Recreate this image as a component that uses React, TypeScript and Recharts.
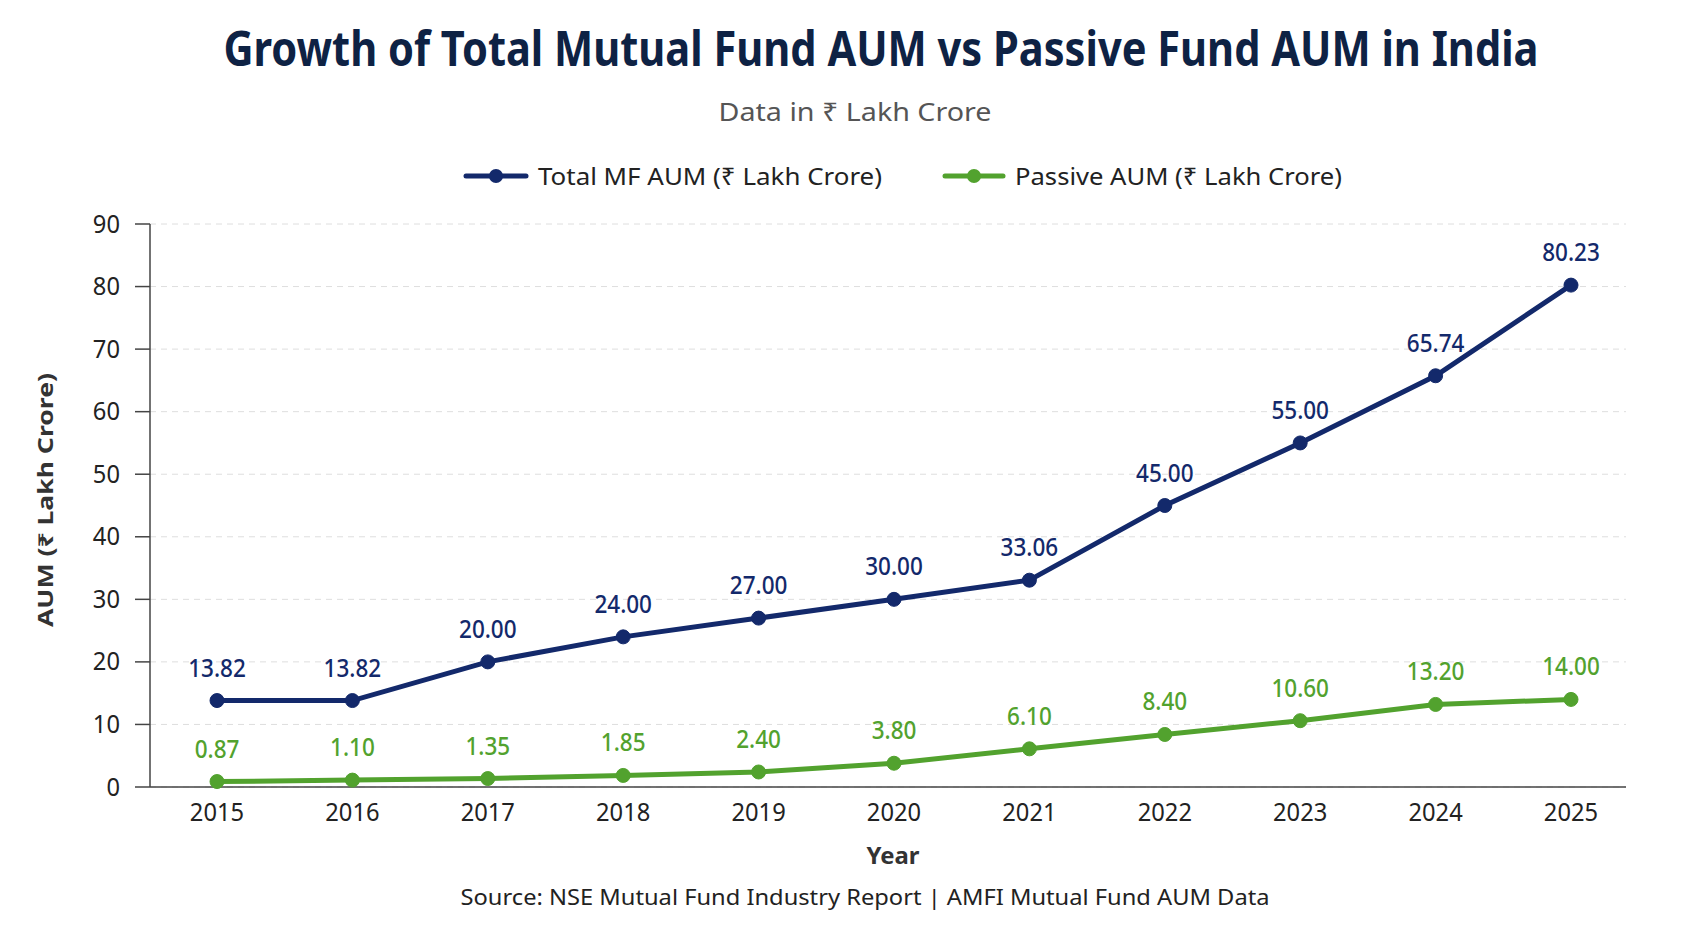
import React from 'react';
import { LineChart, Line, XAxis, YAxis, CartesianGrid, LabelList } from 'recharts';

const years = ['2015', '2016', '2017', '2018', '2019', '2020', '2021', '2022', '2023', '2024', '2025'];
const totalAum = [13.82, 13.82, 20.0, 24.0, 27.0, 30.0, 33.06, 45.0, 55.0, 65.74, 80.23];
const passiveAum = [0.87, 1.1, 1.35, 1.85, 2.4, 3.8, 6.1, 8.4, 10.6, 13.2, 14.0];
const yTicks = [0, 10, 20, 30, 40, 50, 60, 70, 80, 90];

const NAVY = '#13296b';
const GREEN = '#52a22e';
const FONT = '"Noto Sans", "Open Sans", "DejaVu Sans", sans-serif';

const data = years.map((y, i) => ({ year: y, total: totalAum[i], passive: passiveAum[i] }));

const YTick = (props: any) => {
  const { x, y, payload } = props;
  return (
    <g transform={`translate(${x},${y}) scale(0.95,1)`}>
      <text x={0} y={0} dy={8.5} textAnchor="end" fontSize={25} fill="#222" fontFamily={FONT}>
        {payload.value}
      </text>
    </g>
  );
};

const XTick = (props: any) => {
  const { x, y, payload } = props;
  return (
    <g transform={`translate(${x},${y}) scale(0.95,1)`}>
      <text x={0} y={0} dy={24} textAnchor="middle" fontSize={25} fill="#222" fontFamily={FONT}>
        {payload.value}
      </text>
    </g>
  );
};

const makeLabel = (color: string) => (props: any) => {
  const { x, y, value } = props;
  return (
    <g transform={`translate(${x},${y - 24}) scale(0.9,1)`}>
      <text x={0} y={0} textAnchor="middle" fontSize={25} fontWeight={500} fill={color} fontFamily={FONT}>
        {Number(value).toFixed(2)}
      </text>
    </g>
  );
};

export default function App() {
  return (
    <div style={{ position: 'absolute', left: 0, top: 0, width: 1693, height: 929, background: '#fff' }}>
      <LineChart
        width={1693}
        height={929}
        data={data}
        margin={{ top: 224, right: 67, bottom: 82, left: 50 }}
      >
        <CartesianGrid vertical={false} stroke="#dedede" strokeDasharray="6 5" />
        <XAxis
          dataKey="year"
          height={60}
          padding={{ left: 67, right: 55 }}
          tickLine={false}
          tickSize={0}
          tickMargin={10}
          axisLine={{ stroke: '#444', strokeWidth: 1.5 }}
          tick={<XTick />}
          interval={0}
        />
        <YAxis
          width={100}
          domain={[0, 90]}
          ticks={yTicks}
          interval={0}
          tickSize={15}
          tickMargin={15}
          axisLine={{ stroke: '#444', strokeWidth: 1.5 }}
          tickLine={{ stroke: '#444', strokeWidth: 1.5 }}
          tick={<YTick />}
        />
        <Line
          type="linear"
          dataKey="total"
          stroke={NAVY}
          strokeWidth={5}
          dot={{ r: 7, fill: NAVY, stroke: NAVY, strokeWidth: 1 }}
          activeDot={false}
          isAnimationActive={false}
        >
          <LabelList dataKey="total" content={makeLabel(NAVY)} />
        </Line>
        <Line
          type="linear"
          dataKey="passive"
          stroke={GREEN}
          strokeWidth={5}
          dot={{ r: 7, fill: GREEN, stroke: GREEN, strokeWidth: 1 }}
          activeDot={false}
          isAnimationActive={false}
        >
          <LabelList dataKey="passive" content={makeLabel(GREEN)} />
        </Line>
      </LineChart>
      <svg
        width={1693}
        height={929}
        style={{ position: 'absolute', left: 0, top: 0, pointerEvents: 'none' }}
        fontFamily={FONT}
      >
        <text x={881} y={66} textAnchor="middle" fontSize={48} fontWeight={700} fill="#0e2244"
          textLength={1315} lengthAdjust="spacingAndGlyphs">
          Growth of Total Mutual Fund AUM vs Passive Fund AUM in India
        </text>
        <text x={855} y={121} textAnchor="middle" fontSize={26} fill="#555"
          textLength={273} lengthAdjust="spacingAndGlyphs">
          Data in ₹ Lakh Crore
        </text>
        <g>
          <line x1={466} y1={176} x2={526} y2={176} stroke={NAVY} strokeWidth={5} strokeLinecap="round" />
          <circle cx={496} cy={176} r={7} fill={NAVY} />
          <text x={538} y={185} fontSize={24} fill="#222" textLength={344} lengthAdjust="spacingAndGlyphs">
            Total MF AUM (₹ Lakh Crore)
          </text>
          <line x1={945} y1={176} x2={1003} y2={176} stroke={GREEN} strokeWidth={5} strokeLinecap="round" />
          <circle cx={974} cy={176} r={7} fill={GREEN} />
          <text x={1015} y={185} fontSize={24} fill="#222" textLength={327} lengthAdjust="spacingAndGlyphs">
            Passive AUM (₹ Lakh Crore)
          </text>
        </g>
        <text transform="translate(53,500) rotate(-90)" x={0} y={0} textAnchor="middle" fontSize={21}
          fontWeight={700} fill="#333" textLength={254} lengthAdjust="spacingAndGlyphs">
          AUM (₹ Lakh Crore)
        </text>
        <text x={893} y={864} textAnchor="middle" fontSize={24} fontWeight={700} fill="#333"
          textLength={53} lengthAdjust="spacingAndGlyphs">
          Year
        </text>
        <text x={865} y={905} textAnchor="middle" fontSize={22} fill="#222"
          textLength={809} lengthAdjust="spacingAndGlyphs">
          Source: NSE Mutual Fund Industry Report  |  AMFI Mutual Fund AUM Data
        </text>
      </svg>
    </div>
  );
}
